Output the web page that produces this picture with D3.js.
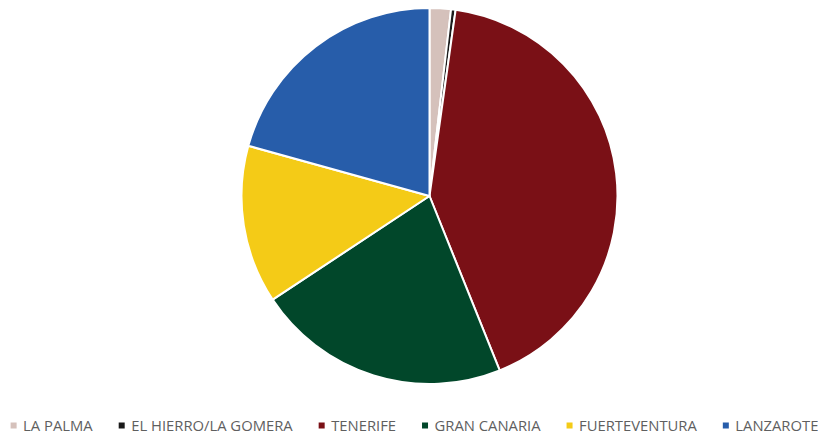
<!DOCTYPE html>
<html>
<head>
<meta charset="utf-8">
<script src="https://cdn.jsdelivr.net/npm/d3@7"></script>
<style>
  html, body { margin: 0; padding: 0; background: #ffffff; }
  svg { display: block; }
</style>
</head>
<body>
<svg id="chart" width="818" height="435"></svg>
<script>
// Island share values (percent)
const islands = ["LA PALMA", "EL HIERRO/LA GOMERA", "TENERIFE", "GRAN CANARIA", "FUERTEVENTURA", "LANZAROTE"];
const shares = [1.83, 0.39, 41.7, 21.8, 13.6, 20.7];
const colors = ["#D5C1BB", "#1A1A1A", "#7A1016", "#01472A", "#F4CB17", "#275DAA"];

const svg = d3.select("#chart");
const cx = 429.5, cy = 196, r = 188;

const data = islands.map((name, i) => ({ name, value: shares[i], color: colors[i] }));

const pie = d3.pie().value(d => d.value).sort(null);
const arc = d3.arc().innerRadius(0).outerRadius(r);

svg.append("g")
  .attr("transform", `translate(${cx},${cy})`)
  .selectAll("path")
  .data(pie(data))
  .join("path")
  .attr("d", arc)
  .attr("fill", d => d.data.color)
  .attr("stroke", "#ffffff")
  .attr("stroke-width", 2)
  .attr("stroke-linejoin", "round");

// Legend along the bottom, centred
const legend = svg.append("g").attr("class", "legend");
const fontSize = 14.8;
const items = legend.selectAll("g").data(data).join("g");
items.append("rect")
  .attr("width", 6).attr("height", 6)
  .attr("y", -8.5)
  .attr("fill", d => d.color);
items.append("text")
  .attr("x", 12.5)
  .attr("y", 0)
  .attr("font-family", "'Open Sans', sans-serif")
  .attr("font-size", fontSize)
  .attr("fill", "#5f5f5f")
  .text(d => d.name);

const gap = 26;
let x = 0;
const offsets = [];
items.each(function () {
  offsets.push(x);
  const w = d3.select(this).select("text").node().getComputedTextLength();
  x += 12.5 + w + gap;
});
const total = x - gap;
const startX = 414.5 - total / 2;
items.attr("transform", (d, i) => `translate(${startX + offsets[i]},431)`);
</script>
</body>
</html>
